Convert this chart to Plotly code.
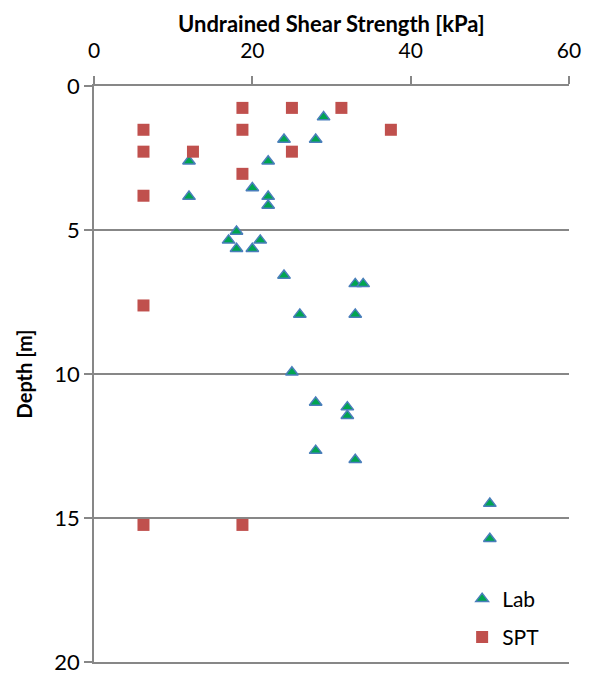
# Undrained shear strength vs depth (Lab / SPT) scatter chart
import plotly.graph_objects as go

# Lab test results
lab_su = [29, 24, 28, 12, 22, 20, 12, 22, 22, 18, 17, 21, 18, 20, 24,
          33, 34, 26, 33, 25, 28, 32, 32, 28, 33, 50, 50]
lab_depth = [1.08, 1.86, 1.86, 2.61, 2.61, 3.54, 3.84, 3.84, 4.15, 5.05, 5.36, 5.36, 5.65, 5.65, 6.58,
             6.87, 6.87, 7.93, 7.93, 9.94, 10.99, 11.15, 11.45, 12.66, 12.98, 14.5, 15.72]

# SPT correlations
spt_su = [18.75, 25, 31.25, 6.25, 18.75, 37.5, 6.25, 12.5, 25, 18.75, 6.25, 6.25, 6.25, 18.75]
spt_depth = [0.76, 0.76, 0.76, 1.52, 1.52, 1.52, 2.28, 2.28, 2.28, 3.05, 3.81, 7.62, 15.24, 15.24]

x_ticks = [0, 20, 40, 60]
y_ticks = [0, 5, 10, 15, 20]

FONT = "Lato"
GRAY = "#878787"

fig = go.Figure()
fig.add_trace(go.Scatter(x=lab_su, y=lab_depth, mode="markers", name="Lab", legendgroup="a",
                         marker=dict(symbol="triangle-up", size=11, color="#00A550",
                                     line=dict(color="#4A7EBB", width=1.5))))
fig.add_trace(go.Scatter(x=spt_su, y=spt_depth, mode="markers", name="SPT", legendgroup="b",
                         marker=dict(symbol="square", size=12, color="#C0504D",
                                     line=dict(width=0))))

# page body has an 8px margin, so the figure is 8px smaller than the window
fig.update_layout(
    width=584, height=667,
    margin=dict(l=86, r=23, t=78, b=13),
    paper_bgcolor="white", plot_bgcolor="white",
    font=dict(family=FONT, size=21, color="black"),
    showlegend=True,
    legend=dict(x=0.775, y=0.145, xanchor="left", yanchor="top",
                bgcolor="rgba(0,0,0,0)", font=dict(size=21),
                traceorder="grouped", tracegroupgap=8),
    xaxis=dict(side="top", range=[0, 60], tickvals=x_ticks, automargin=False,
               showgrid=False, zeroline=False, mirror=True,
               showline=True, linecolor=GRAY, linewidth=1.5,
               ticks="outside", ticklen=8, tickcolor=GRAY, tickwidth=1.5,
               tickfont=dict(size=21), ticklabelstandoff=10),
    yaxis=dict(range=[20, 0], tickvals=y_ticks, automargin=False,
               showgrid=True, gridcolor=GRAY, gridwidth=1.5, zeroline=False,
               showline=True, linecolor=GRAY, linewidth=1.5,
               ticks="outside", ticklen=8, tickcolor=GRAY, tickwidth=1.5,
               tickfont=dict(size=22),
               title=dict(text="<b>Depth [m]</b>", font=dict(size=20), standoff=16)),
    annotations=[dict(text="<b>Undrained Shear Strength [kPa]</b>", font=dict(size=22),
                      xref="paper", yref="paper", x=0.5, y=1, xanchor="center",
                      yanchor="middle", yshift=63, showarrow=False)],
)

fig.write_html("out.html")
